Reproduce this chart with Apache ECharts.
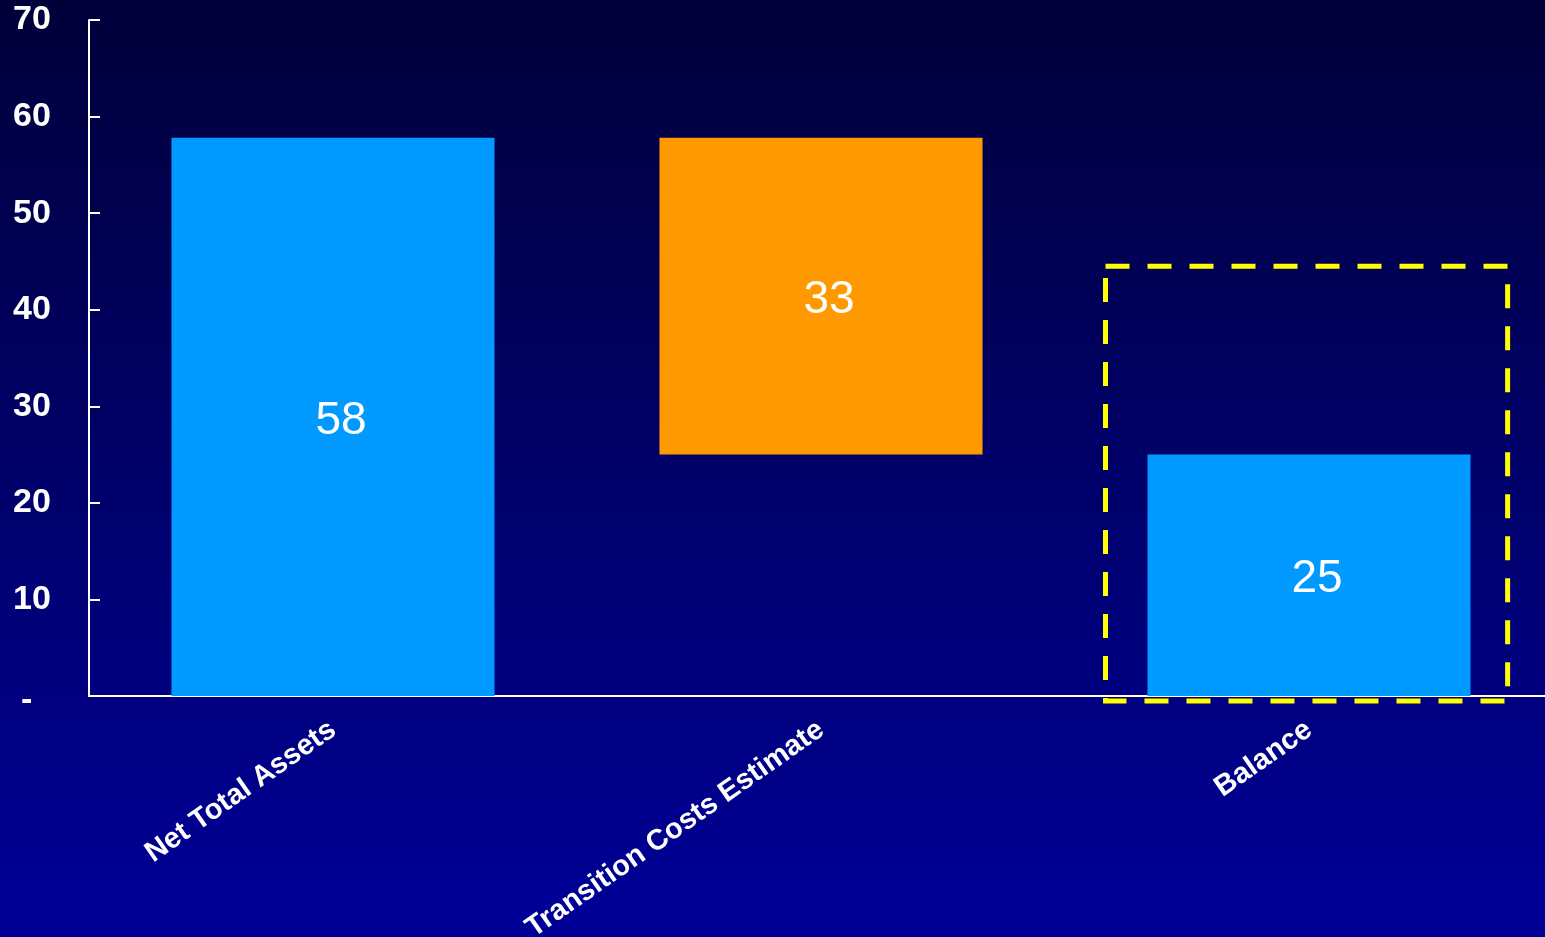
<!DOCTYPE html>
<html>
<head>
<meta charset="utf-8">
<script src="https://cdn.jsdelivr.net/npm/echarts@6/dist/echarts.min.js"></script>
<style>
  html, body { margin: 0; padding: 0; }
  #main { width: 1545px; height: 937px; }
</style>
</head>
<body>
<div id="main"></div>
<script type="text/javascript">
    // data
    var categories = ['Net Total Assets', 'Transition Costs Estimate', 'Balance'];
    var baseValues = [0, 25, 0];      // invisible offset for the waterfall
    var barValues = [57.8, 32.8, 25];
    var barColors = ['#0099FF', '#FF9900', '#0099FF'];
    var yTicks = [0, 10, 20, 30, 40, 50, 60, 70];
    var highlightTop = 44.5;          // top of the dashed box around Balance

    var font = 'Liberation Sans, Arial, sans-serif';
    var myChart = echarts.init(document.getElementById('main'));

    var option = {
        backgroundColor: {
            type: 'linear', x: 0, y: 0, x2: 0, y2: 1,
            colorStops: [
                {offset: 0, color: '#00003a'},
                {offset: 1, color: '#000098'}
            ]
        },
        animation: false,
        grid: {left: 89, right: -8, top: 20, bottom: 241, containLabel: false, outerBoundsMode: 'none'},
        xAxis: {
            type: 'category',
            data: categories,
            axisLine: {lineStyle: {color: '#ffffff', width: 2}},
            axisTick: {show: false},
            axisLabel: {
                rotate: 35,
                margin: 31,
                color: '#ffffff',
                fontWeight: 'bold',
                fontSize: 29,
                fontFamily: font,
                interval: 0
            }
        },
        yAxis: {
            type: 'value',
            min: yTicks[0],
            max: yTicks[yTicks.length - 1],
            interval: 10,
            splitLine: {show: false},
            axisLine: {show: true, lineStyle: {color: '#ffffff', width: 2}},
            axisTick: {show: true, inside: true, length: 11, lineStyle: {color: '#ffffff', width: 2}},
            axisLabel: {
                color: '#ffffff',
                fontWeight: 'bold',
                fontSize: 34,
                fontFamily: font,
                align: 'left',
                margin: 76,
                formatter: function (v) {
                    return v === 0 ? '{d|-}' : String(v);
                },
                rich: {
                    d: {color: '#ffffff', fontWeight: 'bold', fontSize: 34, fontFamily: font, padding: [10, 0, 0, 8]}
                }
            }
        },
        series: [
            {
                name: 'base',
                type: 'bar',
                stack: 'w',
                barWidth: '66.2%',
                itemStyle: {color: 'transparent'},
                data: baseValues
            },
            {
                name: 'value',
                type: 'bar',
                stack: 'w',
                barWidth: '66.2%',
                data: barValues.map(function (v, i) {
                    return {value: v, itemStyle: {color: barColors[i]}};
                }),
                label: {
                    show: true,
                    position: 'inside',
                    offset: [8, 4],
                    color: '#ffffff',
                    fontSize: 46,
                    fontFamily: font,
                    formatter: function (p) { return Math.round(p.value); }
                }
            }
        ]
    };
    myChart.setOption(option);

    // dashed highlight box around the Balance bar
    var last = categories.length - 1;
    var center = myChart.convertToPixel({gridIndex: 0}, [last, highlightTop]);
    var zero = myChart.convertToPixel({gridIndex: 0}, [last, 0]);
    var band = myChart.convertToPixel({gridIndex: 0}, [1, 0])[0] - myChart.convertToPixel({gridIndex: 0}, [0, 0])[0];
    var left = center[0] - band * 0.417;
    var right = center[0] + band * 0.407;
    myChart.setOption({
        graphic: [{
            type: 'rect',
            shape: {x: left, y: center[1], width: right - left, height: zero[1] + 5 - center[1]},
            style: {fill: 'none', stroke: '#FFFF00', lineWidth: 5, lineDash: [24, 18]},
            z: 10
        }]
    });
</script>
</body>
</html>
